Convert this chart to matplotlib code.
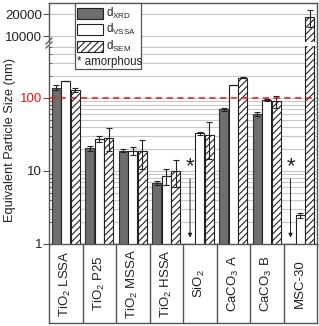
import numpy as np
import matplotlib.pyplot as plt
from matplotlib.patches import Rectangle
from matplotlib.lines import Line2D
from matplotlib.ticker import FixedLocator, NullLocator, LogLocator, NullFormatter

plt.rcParams['font.family'] = ['Liberation Sans', 'DejaVu Sans']
plt.rcParams['font.size'] = 9.5
plt.rcParams['hatch.linewidth'] = 0.8
plt.rcParams['mathtext.fontset'] = 'custom'
plt.rcParams['mathtext.rm'] = 'Liberation Sans'
plt.rcParams['mathtext.it'] = 'Liberation Sans'

# data (nm)
categories = ['TiO$_2$ LSSA', 'TiO$_2$ P25', 'TiO$_2$ MSSA', 'TiO$_2$ HSSA',
              'SiO$_2$', 'CaCO$_3$ A', 'CaCO$_3$ B', 'MSC-30']
d_xrd = [139, 20.5, 19, 6.9, np.nan, 70, 60.5, np.nan]
d_xrd_err = [10, 1.5, 1.0, 0.5, 0, 4, 3, 0]
d_vssa = [171, 27.4, 18.8, 8.5, 32.8, 151, 94, 2.5]
d_vssa_err = [0, 2.5, 2.5, 2.1, 1.5, 0, 3, 0.2]
d_sem = [129, 28.6, 18.8, 10, 30.8, 190, 91, 18000]
d_sem_err = [8, 10, 8, 4, 16, 5, 17, 4500]
amorphous = [4, 7]   # no XRD size

W, H = 319, 326
fig = plt.figure(figsize=(W / 100, H / 100), dpi=100)

def box(x0, y0, x1, y1):
    return [x0 / W, 1 - y1 / H, (x1 - x0) / W, (y1 - y0) / H]

ax_lo = fig.add_axes(box(49, 46, 317, 244))
ax_hi = fig.add_axes(box(49, 3, 317, 42))
ax_lab = fig.add_axes(box(49, 244, 317, 323))

x = np.arange(len(categories))
off, bw = 0.29, 0.27
spine_c = '#555555'
xrd_c = '#6e6e6e'

for ax in (ax_lo, ax_hi):
    ax.bar(x - off, d_xrd, bw, color=xrd_c, edgecolor='#333333', lw=0.8, zorder=3)
    ax.bar(x, d_vssa, bw, color='white', edgecolor='#222222', lw=0.8, zorder=3)
    ax.bar(x + off, d_sem, bw, color='white', edgecolor='#222222', hatch='/////', lw=0.8, zorder=3)
    ax.errorbar(x - off, d_xrd, yerr=d_xrd_err, fmt='none', ecolor='#222222', elinewidth=0.8, capsize=2, capthick=0.8, zorder=4)
    ax.errorbar(x, d_vssa, yerr=d_vssa_err, fmt='none', ecolor='#222222', elinewidth=0.8, capsize=2, capthick=0.8, zorder=4)
    ax.errorbar(x + off, d_sem, yerr=d_sem_err, fmt='none', ecolor='#222222', elinewidth=0.8, capsize=2, capthick=0.8, zorder=4)
    ax.set_yscale('log')
    ax.set_xlim(-0.5, len(categories) - 0.5)
    ax.set_xticks([])
    for s in ax.spines.values():
        s.set_color(spine_c)
        s.set_linewidth(1.0)
    ax.tick_params(axis='y', which='major', direction='out', length=4, color=spine_c, labelcolor='#222222', pad=1)
    ax.tick_params(axis='y', which='minor', direction='in', length=2, color=spine_c)

ax_lo.set_ylim(1, 515)
ax_lo.yaxis.set_major_locator(FixedLocator([1, 10, 100]))
ax_lo.set_yticklabels(['1', '10', '100'])
ax_lo.yaxis.set_minor_locator(LogLocator(base=10, subs=np.arange(2, 10)))
ax_lo.yaxis.set_minor_formatter(NullFormatter())
ax_lo.get_yticklabels()[2].set_color('#e8141b')
ax_lo.grid(True, which='both', axis='y', color='#c8c8c8', lw=0.8, zorder=0)
ax_lo.axhline(100, color='#e8141b', ls=(0, (4, 3)), lw=1.1, zorder=5)
ax_lo.spines['top'].set_visible(False)

ax_hi.set_ylim(8280, 28350)
ax_hi.yaxis.set_major_locator(FixedLocator([10000, 20000]))
ax_hi.set_yticklabels(['10000', '20000'])
ax_hi.yaxis.set_minor_locator(NullLocator())
ax_hi.grid(True, which='major', axis='y', color='#c8c8c8', lw=0.8, zorder=0)
ax_hi.spines['bottom'].set_visible(False)

# amorphous samples: asterisk with arrow
for i in amorphous:
    ax_lo.text(i - off, 11.5, '*', ha='center', va='center', fontsize=16, color='#222222', zorder=6)
    ax_lo.annotate('', xy=(i - off, 1.12), xytext=(i - off, 8.5),
                   arrowprops=dict(arrowstyle='-|>', color='#222222', lw=0.7, mutation_scale=6), zorder=6)

fig.text(10 / W, 1 - 140 / H, 'Equivalent Particle Size (nm)', rotation=90,
         ha='center', va='center', fontsize=9.2, color='#222222')

# break marks on the left spine
for dy in (0, 4):
    fig.add_artist(Line2D([46 / W, 52 / W], [1 - (44 + dy) / H, 1 - (38 + dy) / H], color=spine_c, lw=0.9))
fig.add_artist(Line2D([317 / W, 317 / W], [1 - 42 / H, 1 - 46 / H], color=spine_c, lw=1.0))

# category label box
ax_lab.set_xlim(-0.5, len(categories) - 0.5)
ax_lab.set_ylim(0, 1)
ax_lab.set_xticks([])
ax_lab.set_yticks([])
for s in ax_lab.spines.values():
    s.set_color(spine_c)
    s.set_linewidth(1.0)
for k in range(1, len(categories)):
    ax_lab.axvline(k - 0.5, color=spine_c, lw=1.0)
for i, c in enumerate(categories):
    ax_lab.text(i, 0.5, c, rotation=90, ha='center', va='center', color='#222222')

# legend box
fig.add_artist(Rectangle((75 / W, 1 - 69 / H), 66 / W, 66 / H, transform=fig.transFigure,
                         facecolor='white', edgecolor=spine_c, lw=0.9, zorder=10))
entries = [(xrd_c, None, 'd$_{XRD}$', 13.5), ('white', None, 'd$_{VSSA}$', 29.5), ('white', '/////', 'd$_{SEM}$', 46.5)]
for fc, hatch, lab, yc in entries:
    fig.add_artist(Rectangle((77 / W, 1 - (yc + 5.5) / H), 26 / W, 11 / H, transform=fig.transFigure,
                             facecolor=fc, edgecolor='#222222', hatch=hatch, lw=0.8, zorder=11))
    fig.text(106 / W, 1 - yc / H, lab, ha='left', va='center', fontsize=8.3, color='#222222', zorder=12)
fig.text(77 / W, 1 - 62 / H, '* amorphous', ha='left', va='center', fontsize=8.3, color='#222222', zorder=12)

fig.savefig('out.png', dpi=100)
